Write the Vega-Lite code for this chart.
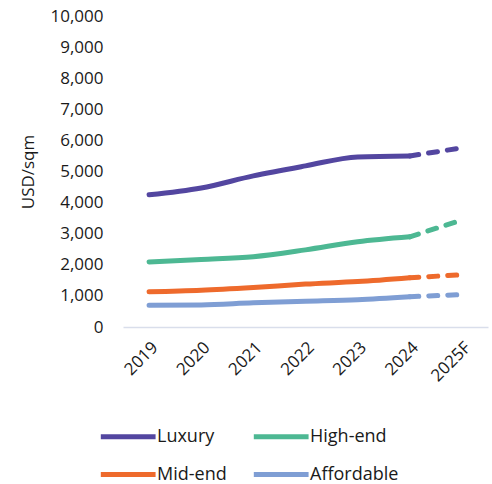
{
  "$schema": "https://vega.github.io/schema/vega-lite/v6.json",
  "autosize": "none",
  "width": 365,
  "height": 311,
  "padding": {"left": 123, "top": 16, "right": 4, "bottom": 157},
  "config": {
    "view": {"stroke": null},
    "font": "Open Sans",
    "axis": {"labelFont": "Open Sans", "titleFont": "Open Sans", "labelColor": "#1a1a1a", "titleColor": "#1a1a1a"},
    "legend": {"labelFont": "Open Sans"}
  },
  "data": {
    "values": [
      {"year": "2019", "segment": "Luxury", "value": 4250},
      {"year": "2020", "segment": "Luxury", "value": 4470},
      {"year": "2021", "segment": "Luxury", "value": 4860},
      {"year": "2022", "segment": "Luxury", "value": 5180},
      {"year": "2023", "segment": "Luxury", "value": 5470},
      {"year": "2024", "segment": "Luxury", "value": 5500},
      {"year": "2025F", "segment": "Luxury", "value": 5760},
      {"year": "2019", "segment": "High-end", "value": 2090},
      {"year": "2020", "segment": "High-end", "value": 2170},
      {"year": "2021", "segment": "High-end", "value": 2260},
      {"year": "2022", "segment": "High-end", "value": 2480},
      {"year": "2023", "segment": "High-end", "value": 2740},
      {"year": "2024", "segment": "High-end", "value": 2900},
      {"year": "2025F", "segment": "High-end", "value": 3440},
      {"year": "2019", "segment": "Mid-end", "value": 1130},
      {"year": "2020", "segment": "Mid-end", "value": 1180},
      {"year": "2021", "segment": "Mid-end", "value": 1270},
      {"year": "2022", "segment": "Mid-end", "value": 1380},
      {"year": "2023", "segment": "Mid-end", "value": 1460},
      {"year": "2024", "segment": "Mid-end", "value": 1585},
      {"year": "2025F", "segment": "Mid-end", "value": 1680},
      {"year": "2019", "segment": "Affordable", "value": 700},
      {"year": "2020", "segment": "Affordable", "value": 710},
      {"year": "2021", "segment": "Affordable", "value": 780},
      {"year": "2022", "segment": "Affordable", "value": 830},
      {"year": "2023", "segment": "Affordable", "value": 880},
      {"year": "2024", "segment": "Affordable", "value": 975},
      {"year": "2025F", "segment": "Affordable", "value": 1040}
    ]
  },
  "encoding": {
    "x": {
      "field": "year", "type": "ordinal", "title": null,
      "axis": {"labelAngle": -45, "labelFontSize": 17, "ticks": false, "domainColor": "#D9DEEB", "domainWidth": 1.5, "labelPadding": 12}
    },
    "y": {
      "field": "value", "type": "quantitative", "title": "USD/sqm",
      "scale": {"domain": [0, 10000]},
      "axis": {"tickCount": 10, "format": ",d", "grid": false, "domain": false, "ticks": false, "labelFontSize": 17, "titleFontSize": 17, "titleFontWeight": "normal", "labelPadding": 20, "titlePadding": 12}
    },
    "color": {
      "field": "segment", "type": "nominal", "title": null,
      "scale": {"domain": ["Luxury", "High-end", "Mid-end", "Affordable"], "range": ["#5346A0", "#4DB893", "#EE6A2C", "#7F9ED4"]},
      "legend": {"orient": "none", "direction": "horizontal", "legendX": -25, "legendY": 404, "columns": 2, "symbolType": "M-1,0L3,0", "symbolSize": 750, "symbolStrokeWidth": 5, "labelFontSize": 18, "labelColor": "#1a1a1a", "columnPadding": 16, "rowPadding": 11, "labelOffset": 26}
    }
  },
  "layer": [
    {
      "transform": [{"filter": "datum.year != '2025F'"}],
      "mark": {"type": "line", "interpolate": "monotone", "strokeWidth": 5, "strokeCap": "round"}
    },
    {
      "transform": [{"filter": "datum.year == '2024' || datum.year == '2025F'"}],
      "mark": {"type": "line", "interpolate": "monotone", "strokeWidth": 5, "strokeCap": "round", "strokeDash": [9, 10]}
    }
  ]
}
